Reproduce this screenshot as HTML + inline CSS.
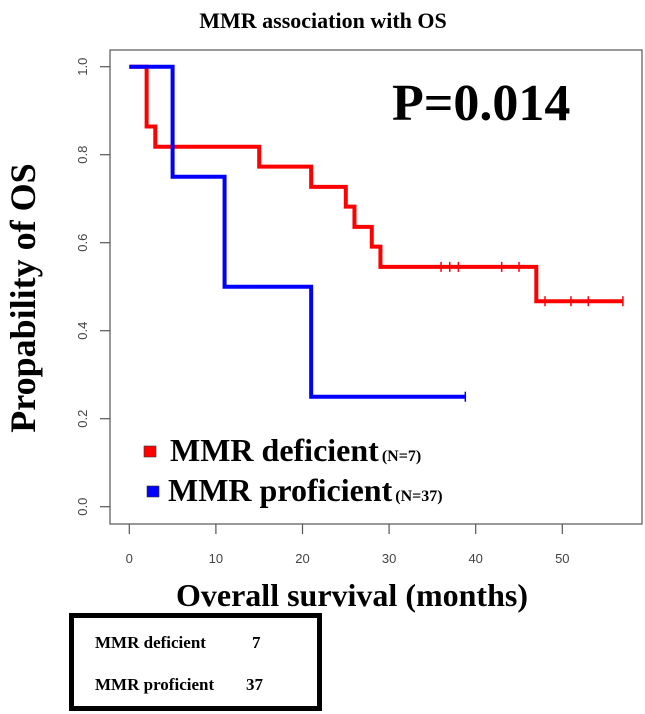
<!DOCTYPE html>
<html><head><meta charset="utf-8"><style>
body{margin:0;background:#fff;}
svg{display:block;}
.serif{font-family:"Liberation Serif",serif;font-weight:bold;}
.sans{font-family:"Liberation Sans",sans-serif;}
</style></head><body>
<svg id="chart" width="645" height="714" viewBox="0 0 645 714">
<text class="serif" x="323" y="28" font-size="22" text-anchor="middle">MMR association with OS</text>
<text class="serif" x="0" y="0" font-size="36" text-anchor="middle" transform="translate(35,298) rotate(-90)">Propability of OS</text>
<text class="serif" x="352" y="606" font-size="32" text-anchor="middle">Overall survival (months)</text>
<text class="serif" x="392" y="120" font-size="52">P=0.014</text>
<g id="axes"></g>
<g id="curves"></g>
<rect x="144" y="446" width="12" height="11" fill="#f00" stroke="#333" stroke-width="0.6"/>
<text class="serif" x="170" y="461" font-size="32">MMR deficient<tspan font-size="16" dx="3">(N=7)</tspan></text>
<rect x="147" y="486" width="12" height="11" fill="#00f" stroke="#333" stroke-width="0.6"/>
<text class="serif" x="168" y="501" font-size="32">MMR proficient<tspan font-size="16" dx="3">(N=37)</tspan></text>
<rect x="71.5" y="615.5" width="248" height="93" fill="none" stroke="#000" stroke-width="5"/>
<text class="serif" x="95" y="648" font-size="17">MMR deficient</text>
<text class="serif" x="252" y="648" font-size="17">7</text>
<text class="serif" x="95" y="690" font-size="17">MMR proficient</text>
<text class="serif" x="246" y="690" font-size="17">37</text>
</svg>
<script>
const xTicks=[0,10,20,30,40,50];
const yTicks=[0.0,0.2,0.4,0.6,0.8,1.0];
const redTimes=[0,2,3,15,21,25,26,28,29,47];
const redSurv=[1.0,0.864,0.818,0.773,0.727,0.682,0.636,0.591,0.545,0.467];
const redEnd=57;
const redCensor=[36,37,38,43,45,48,51,53,57];
const blueTimes=[0,5,11,21];
const blueSurv=[1.0,0.75,0.5,0.25];
const blueEnd=38.8;
const blueCensor=[38.8];
const NS='http://www.w3.org/2000/svg';
const xs=t=>129.3+t*8.66;
const ys=v=>506.7-v*440;
function mk(tag,attrs,parent){const e=document.createElementNS(NS,tag);for(const k in attrs)e.setAttribute(k,attrs[k]);parent.appendChild(e);return e;}
const axes=document.getElementById('axes');
let l=mk('rect',{x:110,y:50,width:532,height:474,fill:'none',stroke:'#555','stroke-width':1.2},axes);


xTicks.forEach(t=>{
  const tk=mk('line',{x1:xs(t),y1:524,x2:xs(t),y2:534,stroke:'#555','stroke-width':1.2},axes);
  
  
  const tx=mk('text',{x:xs(t),y:563,'font-size':13,'text-anchor':'middle',fill:'#444',class:'sans'},axes);
  tx.textContent=t;
  
  
});
yTicks.forEach(v=>{
  const tk=mk('line',{x1:100,y1:ys(v),x2:110,y2:ys(v),stroke:'#555','stroke-width':1.2},axes);
  
  
  const tx=mk('text',{x:0,y:0,'font-size':13,'text-anchor':'middle',fill:'#444',class:'sans',transform:`translate(87,${ys(v)}) rotate(-90)`},axes);
  tx.textContent=v.toFixed(1);
  
  
});
const curves=document.getElementById('curves');
function curve(times,surv,end,cens,color,name){
  let d=`M${xs(times[0])},${ys(surv[0])}`;
  for(let i=1;i<times.length;i++){d+=` H${xs(times[i])} V${ys(surv[i])}`;}
  d+=` H${xs(end)}`;
  const p=mk('path',{d:d,fill:'none',stroke:color,'stroke-width':4},curves);
  
  
  cens.forEach(c=>{
    let s=surv[0];for(let i=0;i<times.length;i++){if(times[i]<=c)s=surv[i];}
    const m=mk('line',{x1:xs(c),y1:ys(s)-5,x2:xs(c),y2:ys(s)+5,stroke:color,'stroke-width':1.5},curves);
    
    
  });
}
curve(redTimes,redSurv,redEnd,redCensor,'#f00','deficient');
curve(blueTimes,blueSurv,blueEnd,blueCensor,'#00f','proficient');
</script>
</body></html>
